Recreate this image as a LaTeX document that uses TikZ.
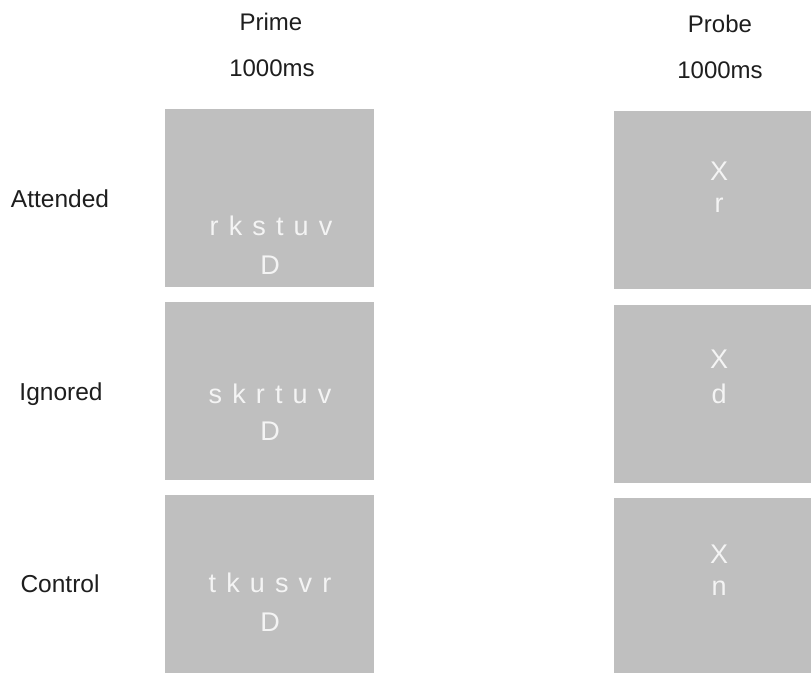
\documentclass[tikz,border=0pt]{standalone}
\usepackage{fontspec}
\setmainfont{Liberation Sans}
\newfontfamily\boxfont[WordSpace=1.35]{Liberation Sans}
\definecolor{boxgray}{RGB}{191,191,191}
\definecolor{boxtext}{RGB}{244,244,244}
\definecolor{labeltext}{RGB}{30,30,30}
\begin{document}
\begin{tikzpicture}[x=1pt,y=-1pt,
  panel/.style={fill=boxgray,draw=none,anchor=north west,inner sep=0pt,minimum width=209pt,minimum height=178pt},
  head/.style={anchor=base,inner sep=0pt,text=labeltext,font=\fontsize{24}{28}\selectfont},
  rowlab/.style={anchor=base,inner sep=0pt,text=labeltext,font=\fontsize{24.5}{28}\selectfont},
  stim/.style={anchor=base,inner sep=0pt,text=boxtext,font=\boxfont\fontsize{27}{32}\selectfont}]
\useasboundingbox (0,0) rectangle (811,672);
\fill[white] (0,0) rectangle (811,672);
% headers
\node[head] (h1) at (271,30) {Prime};
\node[head] (h2) at (272,76) {1000ms};
\node[head] (h3) at (720,32) {Probe};
\node[head] (h4) at (720,78) {1000ms};
% row labels
\node[rowlab] (l1) at (60,207) {Attended};
\node[rowlab] (l2) at (61,400) {Ignored};
\node[rowlab] (l3) at (60,592) {Control};
% prime panels
\node[panel] (p1) at (165,109) {};
\node[panel] (p2) at (165,302) {};
\node[panel] (p3) at (165,495) {};
% probe panels
\node[panel] (q1) at (614,111) {};
\node[panel] (q2) at (614,305) {};
\node[panel] (q3) at (614,498) {};
% prime texts
\node[stim] (p1a) at (271,235) {r k s t u v};
\node[stim] (p1b) at (270,274) {D};
\node[stim] (p2a) at (270,403) {s k r t u v};
\node[stim] (p2b) at (270,440) {D};
\node[stim] (p3a) at (270,592) {t k u s v r};
\node[stim] (p3b) at (270,631) {D};
% probe texts
\node[stim] (q1a) at (719,180) {X};
\node[stim] (q1b) at (719,212) {r};
\node[stim] (q2a) at (719,368) {X};
\node[stim] (q2b) at (719,403) {d};
\node[stim] (q3a) at (719,563) {X};
\node[stim] (q3b) at (719,595) {n};
\end{tikzpicture}
\end{document}
